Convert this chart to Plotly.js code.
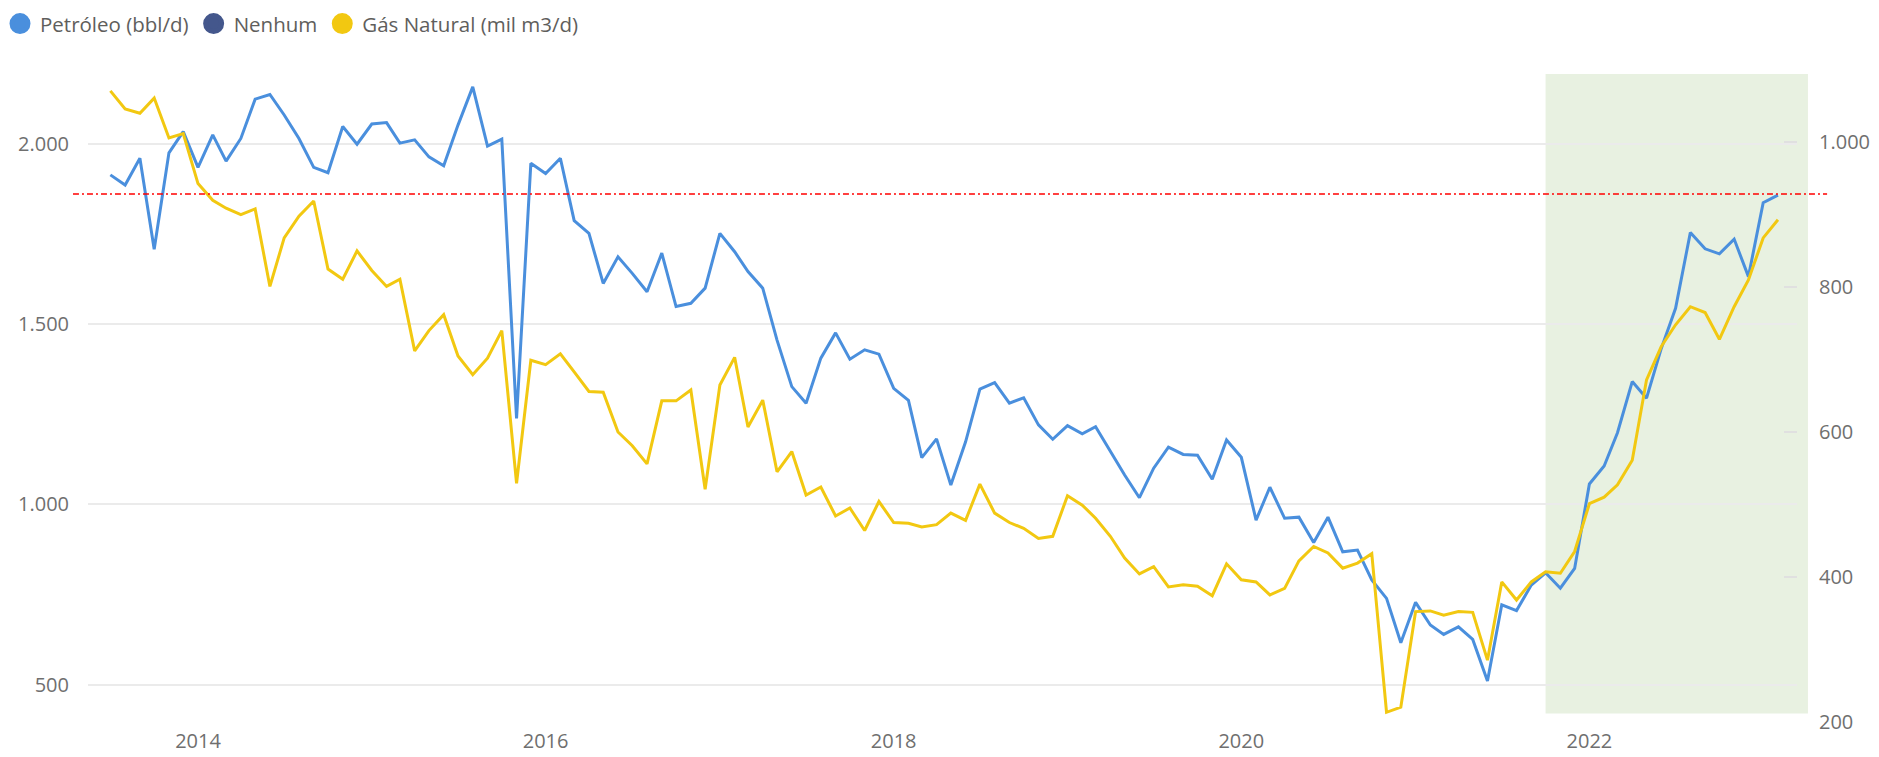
<!DOCTYPE html>
<html>
<head>
<meta charset="utf-8">
<script src="https://cdn.plot.ly/plotly-3.0.1.min.js"></script>
<style>
html,body{margin:0;padding:0;background:#ffffff;}
#chart{width:1879px;height:757px;}
</style>
</head>
<body>
<div id="chart"></div>
<script>
// ---- data (monthly, Jul 2013 - Feb 2023) ----
const firstYear = 2013;
const firstMonth = 7;
const petroleo = [1913,1885,1959,1707,1974,2033,1934,2024,1951,2014,2123,2136,2079,2014,1934,1919,2047,1998,2054,2058,
  2001,2010,1963,1938,2051,2157,1993,2012,1238,1945,1917,1959,1786,1751,1612,1686,1640,1589,1696,1548,
  1557,1599,1751,1700,1645,1599,1455,1326,1280,1405,1475,1402,1428,1416,1321,1288,1129,1181,1053,1173,
  1319,1337,1280,1295,1220,1180,1218,1195,1215,1146,1081,1018,1100,1158,1138,1136,1069,1178,1130,956,
  1047,961,964,894,964,868,873,790,739,616,728,665,639,660,625,510,721,705,776,810,
  767,822,1056,1106,1198,1340,1294,1432,1543,1753,1708,1694,1735,1631,1836,1857];
const gasNatural = [1071,1046,1040,1061,1006,1012,943,920,909,900,908,801,868,898,919,825,811,850,823,801,
  811,712,740,762,705,679,702,740,529,699,693,708,683,656,655,600,581,556,643,643,
  658,521,665,703,607,644,545,573,513,524,484,495,464,504,475,474,469,472,488,478,
  528,488,475,467,453,456,512,499,481,456,426,404,414,386,389,387,374,418,396,393,
  375,384,422,442,433,412,419,432,213,220,352,353,347,352,351,285,393,368,393,407,
  405,435,501,510,527,561,672,718,748,773,765,728,773,810,868,893];
const seriesNames = ['Petróleo (bbl/d)', 'Nenhum', 'Gás Natural (mil m3/d)'];
const highlightStart = '2021-10-01';
const referenceLevel = 1860;
const leftTickVals = [500, 1000, 1500, 2000];
const rightTickVals = [200, 400, 600, 800, 1000];
const xTickVals = ['2014-01-01', '2016-01-01', '2018-01-01', '2020-01-01', '2022-01-01'];
const xTickText = ['2014', '2016', '2018', '2020', '2022'];

// month dates for the x axis
const dates = petroleo.map((_, k) => {
  const m0 = firstMonth - 1 + k;
  const y = firstYear + Math.floor(m0 / 12);
  const m = (m0 % 12) + 1;
  return y + '-' + String(m).padStart(2, '0') + '-01';
});

const xRange = ['2013-05-15', '2023-03-13'];
// position of the highlight start on the x axis, as a fraction of the plot width
const t0 = Date.parse(xRange[0]), t1 = Date.parse(xRange[1]);
const highlightFrac = (Date.parse(highlightStart) - t0) / (t1 - t0);

const BLUE = '#4A8FDD';
const NAVY = '#44578C';
const YELLOW = '#F2C811';
const FONT = '"Open Sans", "Noto Sans", sans-serif';
const TICK_COLOR = '#6f6f6f';

const traces = [
  {x: dates, y: petroleo, name: seriesNames[0], type: 'scatter', mode: 'lines',
   line: {color: BLUE, width: 3}, yaxis: 'y', showlegend: false, hoverinfo: 'x+y'},
  {x: dates, y: gasNatural, name: seriesNames[2], type: 'scatter', mode: 'lines',
   line: {color: YELLOW, width: 3}, yaxis: 'y2', showlegend: false, hoverinfo: 'x+y'},
  // legend entries
  {x: [null], y: [null], name: seriesNames[0], type: 'scatter', mode: 'markers',
   marker: {color: BLUE, size: 16, line: {color: BLUE, width: 5}}, showlegend: true},
  {x: [null], y: [null], name: seriesNames[1], type: 'scatter', mode: 'markers',
   marker: {color: NAVY, size: 16, line: {color: NAVY, width: 5}}, showlegend: true},
  {x: [null], y: [null], name: seriesNames[2], type: 'scatter', mode: 'markers',
   marker: {color: YELLOW, size: 16, line: {color: YELLOW, width: 5}}, showlegend: true}
];

const layout = {
  width: 1879, height: 757,
  margin: {l: 88, r: 82, t: 60, b: 35},
  paper_bgcolor: '#ffffff', plot_bgcolor: 'rgba(0,0,0,0)',
  separators: ',.',
  font: {family: FONT, size: 20, color: TICK_COLOR},
  showlegend: true,
  legend: {orientation: 'h', xref: 'container', yref: 'container', x: 0, y: 0.995, xanchor: 'left', yanchor: 'top',
           font: {family: FONT, size: 20.5, color: '#605E5C'}, bgcolor: 'rgba(0,0,0,0)', traceorder: 'normal'},
  xaxis: {type: 'date', range: xRange, tickvals: xTickVals, ticktext: xTickText,
          showgrid: false, zeroline: false, showline: false, ticks: '', ticklabelstandoff: 5,
          tickfont: {family: FONT, size: 20, color: TICK_COLOR}},
  yaxis: {range: [396.2, 2231.5], tickvals: leftTickVals, tickformat: ',d', showgrid: true,
          gridcolor: '#ebebeb', gridwidth: 2, zeroline: false, showline: false, ticks: '',
          ticklabelstandoff: 18, tickfont: {family: FONT, size: 20, color: TICK_COLOR}},
  yaxis2: {range: [199.6, 1113.6], tickvals: rightTickVals, tickformat: ',d', overlaying: 'y', side: 'right',
           showgrid: false, zeroline: false, showline: false, ticks: 'inside', ticklen: 13, tickwidth: 2,
           tickcolor: '#e0e0e0', ticklabelstandoff: 21, tickfont: {family: FONT, size: 20, color: TICK_COLOR}},
  shapes: [
    {type: 'rect', xref: 'paper', yref: 'paper', x0: highlightFrac, x1: 1.0064, y0: 0.013, y1: 0.979,
     fillcolor: '#E8F1E1', line: {width: 0}, layer: 'below'},
    {type: 'line', xref: 'paper', yref: 'y', x0: -0.0088, x1: 1.0176, y0: referenceLevel, y1: referenceLevel,
     line: {color: '#FF0000', width: 1.3, dash: '6px,3px,2px,3px'}, layer: 'above'}
  ]
};

Plotly.newPlot('chart', traces, layout, {displayModeBar: false, responsive: false});
</script>
</body>
</html>
